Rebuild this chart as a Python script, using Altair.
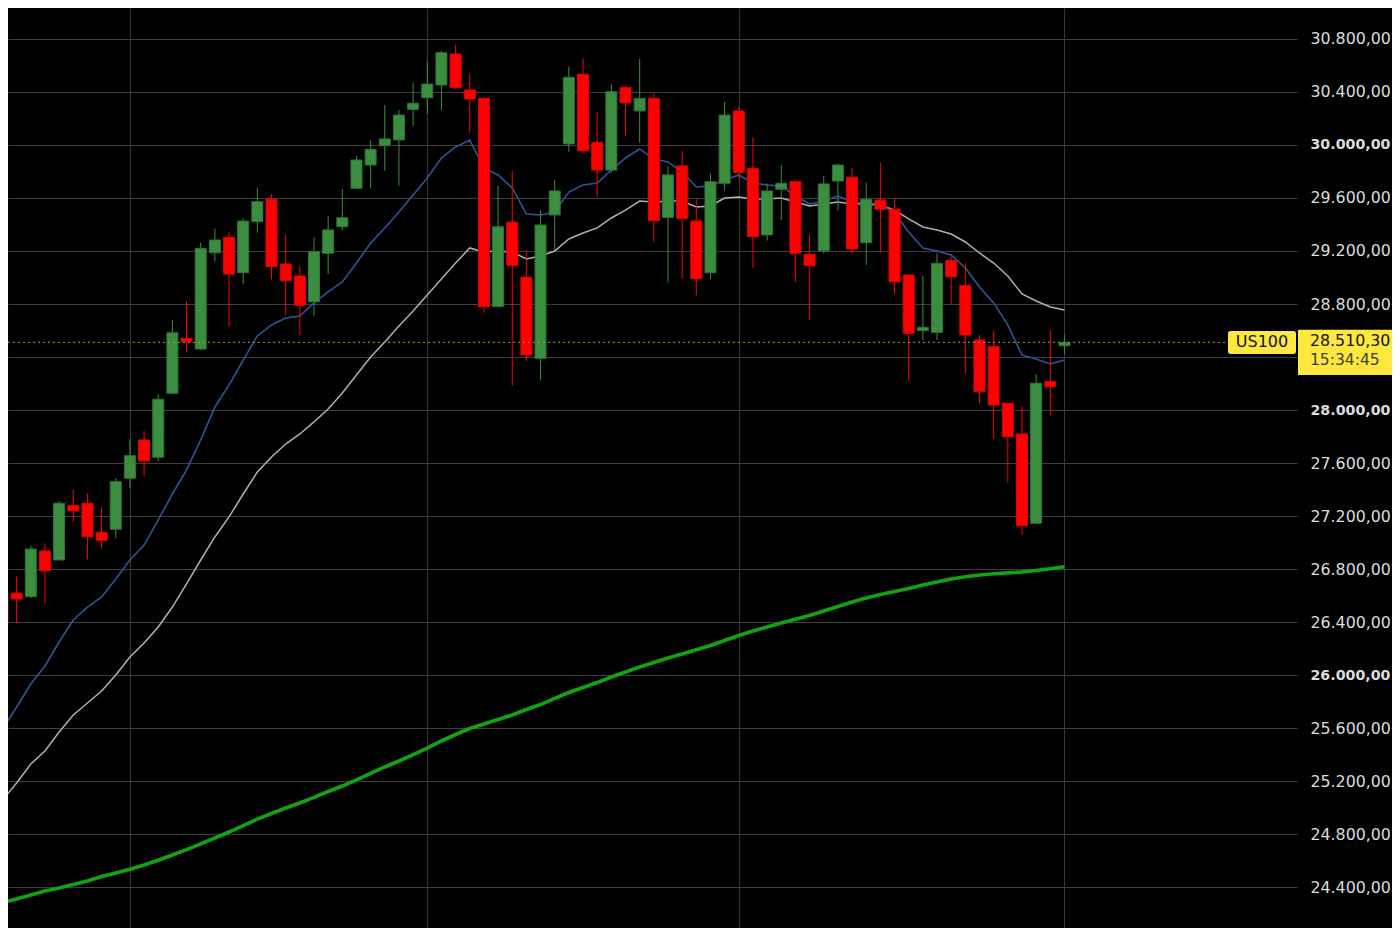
import altair as alt
import pandas as pd

# ---- candle data (index 0 is the partly hidden bar at the left edge) ----
opens = [26619, 26617, 26591, 26936, 26868, 27278, 27296, 27077, 27100, 27485,
         27774, 27643, 28126, 28541, 28460, 29187, 29303, 29036, 29421, 29592,
         29102, 29011, 28817, 29183, 29383, 29673, 29849, 29995, 30038, 30269,
         30357, 30453, 30687, 30415, 30352, 28780, 29417, 29002, 28390, 29472,
         30008, 30534, 30020, 29811, 30435, 30257, 30352, 29454, 29842, 29426,
         29036, 29711, 30257, 29824, 29321, 29666, 29723, 29175, 29202, 29728,
         29756, 29263, 29585, 29515, 29019, 28599, 28586, 29127, 28938, 28528,
         28478, 28051, 27819, 27145, 28214, 28485]
highs = [26640, 26742, 26976, 26994, 27313, 27396, 27371, 27266, 27485, 27779,
         27842, 28119, 28679, 28823, 29263, 29368, 29346, 29447, 29678, 29630,
         29321, 29087, 29303, 29464, 29668, 29917, 30038, 30302, 30264, 30470,
         30634, 30712, 30757, 30536, 30365, 29693, 29804, 29208, 29509, 29736,
         30591, 30654, 30251, 30460, 30445, 30649, 30390, 29842, 29955, 29590,
         29786, 30325, 30289, 30058, 29711, 29849, 29736, 29326, 29768, 29862,
         29824, 29716, 29866, 29598, 29025, 29011, 29187, 29170, 29107, 28566,
         28599, 28056, 28025, 28270, 28599, 28571]
lows = [26360, 26395, 26579, 26536, 26863, 27157, 26873, 26956, 27032, 27409,
        27497, 27617, 28120, 28433, 28455, 29119, 28629, 28949, 29338, 28986,
        28712, 28566, 28710, 29026, 29355, 29670, 29673, 29806, 29693, 30143,
        30232, 30264, 30423, 30093, 28734, 28775, 28183, 28370, 28226, 29208,
        29949, 29937, 29610, 29791, 30068, 30017, 29270, 28961, 28991, 28866,
        28986, 29655, 29749, 29074, 29278, 29434, 28968, 28679, 29183, 29504,
        29183, 29094, 29187, 28876, 28219, 28528, 28528, 28793, 28277, 28051,
        27781, 27454, 27057, 27140, 27957, 28420]
closes = [26377, 26574, 26951, 26787, 27296, 27240, 27044, 27014, 27459, 27655,
          27615, 28081, 28583, 28516, 29220, 29283, 29026, 29426, 29572, 29082,
          28976, 28790, 29195, 29359, 29451, 29887, 29968, 30046, 30226, 30315,
          30460, 30697, 30435, 30347, 28780, 29383, 29092, 28415, 29396, 29653,
          30511, 29957, 29811, 30402, 30319, 30352, 29429, 29774, 29447, 28991,
          29723, 30226, 29794, 29308, 29653, 29711, 29183, 29089, 29706, 29849,
          29215, 29590, 29515, 28968, 28579, 28624, 29107, 29006, 28566, 28138,
          28038, 27799, 27127, 28202, 28176, 28510.30]

# ---- moving averages ----
ma_fast = [25592, 25759, 25932, 26068, 26249, 26415, 26513, 26589, 26725, 26868,
           26981, 27170, 27366, 27547, 27774, 28023, 28189, 28377, 28559, 28642,
           28694, 28709, 28808, 28891, 28966, 29109, 29260, 29374, 29494, 29623,
           29751, 29902, 29985, 30038, 29826, 29774, 29676, 29479, 29472, 29494,
           29645, 29698, 29713, 29811, 29902, 29970, 29894, 29872, 29796, 29683,
           29691, 29736, 29774, 29713, 29698, 29691, 29615, 29555, 29577, 29615,
           29570, 29562, 29555, 29487, 29343, 29223, 29200, 29170, 29072, 28928,
           28808, 28642, 28415, 28385, 28347, 28377]
ma_slow = [25057, 25185, 25328, 25427, 25570, 25698, 25789, 25879, 26000, 26136,
           26242, 26362, 26513, 26687, 26868, 27042, 27193, 27366, 27532, 27645,
           27743, 27819, 27910, 28008, 28128, 28264, 28400, 28513, 28634, 28747,
           28868, 28989, 29109, 29223, 29192, 29200, 29192, 29140, 29162, 29200,
           29291, 29336, 29374, 29449, 29509, 29577, 29570, 29577, 29577, 29532,
           29540, 29600, 29608, 29592, 29592, 29600, 29570, 29540, 29555, 29570,
           29555, 29555, 29547, 29509, 29442, 29381, 29359, 29328, 29268, 29185,
           29109, 29011, 28876, 28823, 28777, 28755]
ma_long = [24283, 24310, 24340, 24370, 24393, 24419, 24445, 24479, 24506, 24534,
           24566, 24602, 24642, 24682, 24725, 24770, 24815, 24864, 24913, 24955,
           24996, 25034, 25076, 25121, 25162, 25208, 25257, 25306, 25351, 25400,
           25449, 25502, 25551, 25596, 25630, 25664, 25698, 25740, 25777, 25823,
           25868, 25906, 25943, 25985, 26023, 26060, 26094, 26128, 26159, 26190,
           26223, 26260, 26298, 26332, 26362, 26392, 26420, 26449, 26483, 26517,
           26551, 26581, 26608, 26630, 26653, 26679, 26702, 26725, 26742, 26755,
           26764, 26771, 26777, 26789, 26802, 26817]

y_ticks = [24000, 24400, 24800, 25200, 25600, 26000, 26400, 26800, 27200,
           27600, 28000, 28400, 28800, 29200, 29600, 30000, 30400, 30800]
grid_x = [9, 30, 52, 75]

symbol = ["US100"]
last_price = [28510.30]
last_price_text = ["28.510,30"]
clock = ["15:34:45"]

# ---- styling ----
GREEN = "#3b8e3f"
GREEN_EDGE = "#2f7533"
RED = "#ff0000"
RED_EDGE = "#e00000"
BLUE = "#2f5596"
GREY = "#b0b0b0"
MA_GREEN = "#10a510"
YELLOW = "#ffe83d"
FONT = "DejaVu Sans"

idx = list(range(len(opens)))
df = pd.DataFrame({
    "idx": idx, "open": opens, "high": highs, "low": lows, "close": closes,
    "ma_fast": ma_fast, "ma_slow": ma_slow, "ma_long": ma_long,
})
df["dir"] = ["up" if c >= o else "down" for o, c in zip(opens, closes)]

tag_df = pd.DataFrame({"p": last_price, "sym": symbol,
                       "ptxt": last_price_text, "clock": clock})

W, H = 1289, 920
xs = alt.Scale(domain=[0.743, 91.07], nice=False, zero=False)
ys = alt.Scale(domain=[24090.7, 31033.9], nice=False, zero=False)

x_axis = alt.Axis(values=grid_x, grid=True, gridColor="#383838", gridWidth=1,
                  labels=False, ticks=False, domain=False, title=None)
y_axis = alt.Axis(
    orient="right", values=y_ticks, grid=True, gridColor="#3e3e3e", gridWidth=1,
    ticks=False, domain=False, title=None, labelPadding=13, labelAlign="left",
    labelFont=FONT, labelColor="#dcdcdc", labelOverlap=False,
    labelExpr="datum.value == 28400 ? '' : replace(replace(replace(format(datum.value, ',.2f'), ',', '#'), '.', ','), '#', '.')",
    labelFontWeight={"condition": {"test": "datum.value % 2000 == 0", "value": "bold"},
                     "value": "normal"},
    labelFontSize={"condition": {"test": "datum.value % 2000 == 0", "value": 14.2},
                   "value": 15.8},
)


def X(field="idx:Q"):
    return alt.X(field, scale=xs, axis=x_axis)


def Y(field):
    return alt.Y(field, scale=ys, axis=y_axis)


color_enc = alt.Color("dir:N", scale=alt.Scale(domain=["up", "down"], range=[GREEN, RED]), legend=None)
stroke_enc = alt.Stroke("dir:N", scale=alt.Scale(domain=["up", "down"], range=[GREEN_EDGE, RED_EDGE]), legend=None)

base = alt.Chart(df)

ma_long_line = base.mark_line(color=MA_GREEN, strokeWidth=3.6, clip=True).encode(x=X(), y=Y("ma_long:Q"))
ma_slow_line = base.mark_line(color=GREY, strokeWidth=1.5, clip=True).encode(x=X(), y=Y("ma_slow:Q"))
ma_fast_line = base.mark_line(color=BLUE, strokeWidth=1.6, clip=True).encode(x=X(), y=Y("ma_fast:Q"))

wicks = base.mark_rule(strokeWidth=1, clip=True).encode(
    x=X(), y=Y("low:Q"), y2="high:Q", color=color_enc)
bodies = base.mark_bar(size=11, strokeWidth=1, clip=True).encode(
    x=X(), y=Y("open:Q"), y2="close:Q", color=color_enc, stroke=stroke_enc)

tag = alt.Chart(tag_df)
price_line = tag.mark_rule(color="#a39a25", strokeDash=[2, 3], strokeWidth=1).encode(
    y=Y("p:Q"), x=alt.value(0), x2=alt.value(1220))

RECT_SYM = "M-0.92,-0.338 L0.92,-0.338 Q1,-0.338 1,-0.26 L1,0.26 Q1,0.338 0.92,0.338 L-0.92,0.338 Q-1,0.338 -1,0.26 L-1,-0.26 Q-1,-0.338 -0.92,-0.338 Z"
BOX_SYM = "M-1,-0.479 L1,-0.479 L1,0.479 L-1,0.479 Z"

sym_box = tag.mark_point(shape=RECT_SYM, filled=True, size=4624, color=YELLOW,
                         opacity=1, strokeWidth=0).encode(y=Y("p:Q"), x=alt.value(1254))
price_box = tag.mark_point(shape=BOX_SYM, filled=True, size=8836, color=YELLOW,
                           opacity=1, strokeWidth=0, yOffset=10).encode(y=Y("p:Q"), x=alt.value(1337))
sym_text = tag.mark_text(font=FONT, fontSize=16, color="#111111", align="center",
                         baseline="middle", dy=0).encode(y=Y("p:Q"), x=alt.value(1254), text="sym:N")
price_text = tag.mark_text(font=FONT, fontSize=15.8, color="#111111", align="left",
                           baseline="middle", dy=-1).encode(y=Y("p:Q"), x=alt.value(1302), text="ptxt:N")
clock_text = tag.mark_text(font=FONT, fontSize=15.5, color="#3d3d30", align="left",
                           baseline="middle", dy=18).encode(y=Y("p:Q"), x=alt.value(1302), text="clock:N")

chart = alt.layer(
    ma_long_line, ma_slow_line, ma_fast_line, wicks, bodies,
    price_line, sym_box, sym_text, price_box, price_text, clock_text,
).properties(
    width=W, height=H,
    autosize=alt.AutoSizeParams(type="none"),
    padding={"left": 0, "top": 0, "right": 95, "bottom": 0},
).configure(background="#000000").configure_view(stroke=None)

chart.save("out.html", embed_options={"renderer": "svg", "actions": False})
